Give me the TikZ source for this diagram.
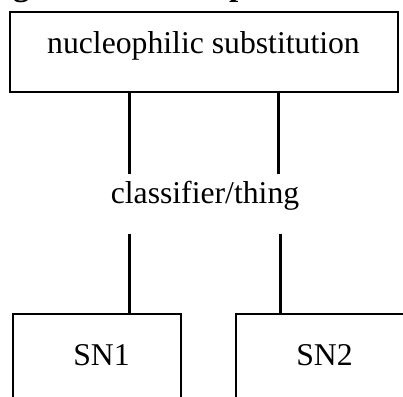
\documentclass[tikz,border=0pt]{standalone}
\usepackage{fontspec}
\setmainfont{Liberation Serif}
\begin{document}
\begin{tikzpicture}[x=1pt,y=-1pt,
  box/.style={draw=black, line width=2pt, inner sep=0pt},
  lbl/.style={font=\fontsize{31.7}{36}\selectfont, inner sep=0pt, anchor=base},
  head/.style={font=\bfseries\fontsize{33}{36}\selectfont, inner sep=0pt, anchor=base west},
  link/.style={draw=black, line width=3pt}]
\useasboundingbox (0,0) rectangle (403,396);
\clip (0,0) rectangle (403,396);
% clipped heading fragments at the top edge
\node[head] (hg) at (13,-4) {g};
\node[head] (hp) at (229,-4) {p};
% top box
\node[box, minimum width=388pt, minimum height=79pt] (top) at (203.5,52) {};
\node[lbl] (toplbl) at (203.5,53) {nucleophilic substitution};
% middle label
\node[lbl] (cls) at (205,203) {classifier/thing};
% bottom boxes (open below the picture edge)
\node[box, minimum width=168pt, minimum height=116pt] (sn1box) at (97,372) {};
\node[box, minimum width=214pt, minimum height=116pt] (sn2box) at (343,372) {};
\node[lbl] (sn1) at (101.5,365) {SN1};
\node[lbl] (sn2) at (324.5,365) {SN2};
% connector ends
\coordinate (u1) at (129,174);
\coordinate (u2) at (278,174);
\coordinate (l1) at (129,234);
\coordinate (l2) at (280,234);
\draw[link] (top.south -| u1) -- (u1);
\draw[link] (top.south -| u2) -- (u2);
\draw[link] (l1) -- (l1 |- sn1box.north);
\draw[link] (l2) -- (l2 |- sn2box.north);
\end{tikzpicture}
\end{document}
